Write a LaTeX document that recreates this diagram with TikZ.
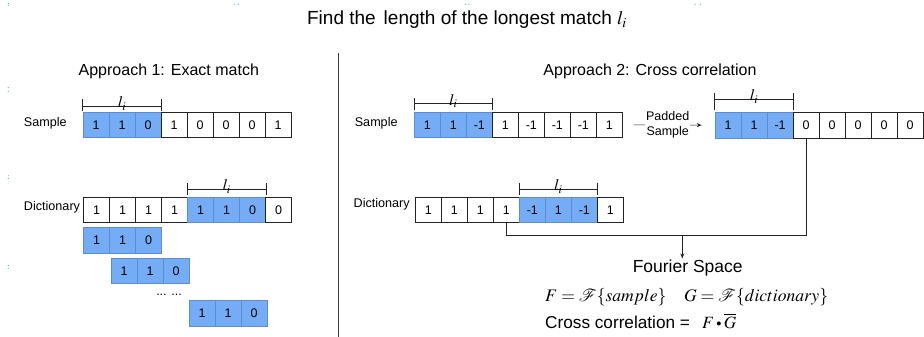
\documentclass[tikz,border=0pt]{standalone}
\usepackage{mathptmx}
\usepackage{mathrsfs}
\usepackage[no-math]{fontspec}
\setmainfont{Liberation Sans}
\usetikzlibrary{arrows.meta,calc}

\definecolor{cellblue}{RGB}{116,172,246}
\definecolor{cellblueedge}{RGB}{95,140,205}
\definecolor{gridline}{RGB}{35,35,35}
\definecolor{divider}{RGB}{60,60,60}
\definecolor{handle}{RGB}{70,170,240}

\tikzset{
  cellbox/.style={minimum width=26pt, minimum height=25.6pt, inner sep=0pt,
    anchor=north west, font=\fontsize{12.5}{14}\selectfont, line width=0.7pt},
  wc/.style={draw=gridline, fill=white},
  bc/.style={draw=cellblueedge, fill=cellblue},
  rowlabel/.style={anchor=base, inner sep=0pt, font=\fontsize{12.6}{15}\selectfont},
  heading/.style={anchor=base, inner sep=0pt, font=\fontsize{16}{18}\selectfont},
  spanline/.style={line width=0.6pt, draw=gridline},
  spanlabel/.style={anchor=base, inner sep=0pt, font=\fontsize{16}{18}\selectfont},
  flow/.style={line width=0.7pt, draw=gridline},
  flowarrow/.style={flow, -{Stealth[length=5pt,width=4pt]}},
}

% small filled circle used as the element-wise product sign
\newcommand{\hadprod}{\mathbin{\vcenter{\hbox{\scalebox{0.6}{$\bullet$}}}}}

% a row of cells: name prefix, left x, top y, list of value/style
\newcommand{\cellrow}[4]{%
  \foreach \v/\s [count=\i] in {#4}
    \node[cellbox,\s] (#1\i) at ({#2+(\i-1)*26},#3) {\v};
}

% span marker over a run of cells: first cell, last cell, tick top, tick bottom,
% line height (all above the cell tops), label name
\newcommand{\spanmark}[6]{%
  \draw[spanline] ([yshift=#3]#1.north west) -- ([yshift=#4]#1.north west)
    ([yshift=#3]#2.north east) -- ([yshift=#4]#2.north east)
    ([yshift=#5]#1.north west) -- ([yshift=#5]#2.north east);
  \path ([yshift=#5]#1.north west) -- node[spanlabel, yshift=-1.8pt] (#6) {$l_i$}
    ([yshift=#5]#2.north east);
}

\begin{document}
\begin{tikzpicture}[x=1pt, y=-1pt]
\useasboundingbox (0,0) rectangle (924,337);

% title and section headings
\node[anchor=base, inner sep=0pt, font=\fontsize{19}{22}\selectfont] (title) at (467,25)
  {Find the\hspace{8pt}length of the longest match $l_i$};
\node[heading] (ap1) at (168.8,75.7) {Approach 1: Exact match};
\node[heading] (ap2) at (650,75.7) {Approach 2: Cross correlation};

% divider between the two approaches
\draw[line width=1.3pt, draw=divider] (338.3,53) -- (338.3,337);

% ---------- Approach 1 ----------
\node[rowlabel] (lbs1) at (45.3,126) {Sample};
\cellrow{a1s}{82.7}{111.7}{1/bc,1/bc,0/bc,1/wc,0/wc,0/wc,0/wc,1/wc}
\spanmark{a1s1}{a1s3}{12.4pt}{0.5pt}{5.7pt}{li1}

\node[rowlabel] (lbd1) at (52,210) {Dictionary};
\cellrow{a1d}{83.3}{196.7}{1/wc,1/wc,1/wc,1/wc,1/bc,1/bc,0/bc,0/wc}
\spanmark{a1d5}{a1d7}{13.4pt}{1.7pt}{7.7pt}{li2}

\cellrow{r1}{83.3}{227.3}{1/bc,1/bc,0/bc}
\cellrow{r2}{110.7}{257.7}{1/bc,1/bc,0/bc}
\node[anchor=base, inner sep=0pt, font=\fontsize{12.5}{14}\selectfont] (dots) at (169,295) {... ...};
\cellrow{r3}{188.7}{300}{1/bc,1/bc,0/bc}

% ---------- Approach 2 ----------
\node[rowlabel] (lbs2) at (376.2,126) {Sample};
\cellrow{a2s}{414}{111.7}{1/bc,1/bc,-1/bc,1/wc,-1/wc,-1/wc,-1/wc,1/wc}
\spanmark{a2s1}{a2s3}{13.4pt}{1.7pt}{8.4pt}{li3}

\cellrow{pd}{714.7}{112}{1/bc,1/bc,-1/bc,0/wc,0/wc,0/wc,0/wc,0/wc}
\spanmark{pd1}{pd3}{18.7pt}{2pt}{13pt}{li4}

\draw[flowarrow] ([xshift=11pt]a2s8.east) --
  node[fill=white, align=center, inner sep=1pt, font=\fontsize{12.5}{14.5}\selectfont] (padlbl)
  {Padded\\Sample} ([xshift=-13pt]pd1.west);

\node[rowlabel] (lbd2) at (381.7,207.3) {Dictionary};
\cellrow{a2d}{415}{196.7}{1/wc,1/wc,1/wc,1/wc,-1/bc,1/bc,-1/bc,1/wc}
\spanmark{a2d5}{a2d7}{14pt}{1.7pt}{7.7pt}{li5}

% both sequences feed the transform
\node[anchor=base, inner sep=1pt, font=\fontsize{17.5}{20}\selectfont] (fourier) at (687.7,272.3) {Fourier Space};
\coordinate (join) at (682.3,235.7);
\draw[flow] (a2d4.south) |- (join) -| (pd4.south);
\draw[flowarrow] (join) -- (join |- fourier.north);

\node[anchor=base west, inner sep=0pt, font=\fontsize{17.6}{20}\selectfont] (fdef) at (545,301.7)
  {$F = \mathscr{F}\{sample\}\quad G = \mathscr{F}\{dictionary\}$};
\node[anchor=base west, inner sep=0pt, font=\fontsize{17.2}{20}\selectfont] (xcorr) at (545,328.7)
  {Cross correlation =\hspace{12pt}$F\hadprod\overline{G}$};

% small selection handles
\foreach \p in {(8.3,3.6),(8.3,5.2),(234.8,4.3),(238.2,4.3),(465.5,4.3),(469,4.3),
                (695,4.3),(700.5,4.3),(8.3,87.5),(8.3,91.5),(8.3,175.8),(8.3,178.5),
                (8.3,265.5),(8.3,268.2)}
  \fill[handle] \p circle (0.6pt);
\end{tikzpicture}
\end{document}
